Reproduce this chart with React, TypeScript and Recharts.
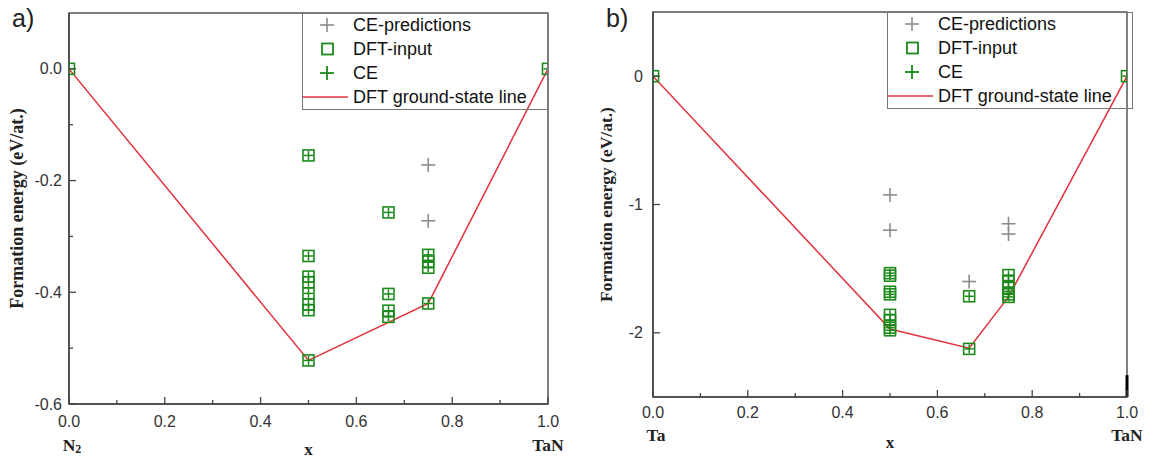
import { ComposedChart, Scatter, Line, XAxis, YAxis, ReferenceArea, ReferenceLine, Label } from "recharts";

type Pt = { x: number; e: number };

// ---- panel a) N2 – TaN ----
const aDftInput: Pt[] = [
  { x: 0, e: 0 },
  { x: 0.5, e: -0.155 }, { x: 0.5, e: -0.335 }, { x: 0.5, e: -0.372 }, { x: 0.5, e: -0.382 },
  { x: 0.5, e: -0.402 }, { x: 0.5, e: -0.422 }, { x: 0.5, e: -0.432 }, { x: 0.5, e: -0.522 },
  { x: 0.667, e: -0.257 }, { x: 0.667, e: -0.403 }, { x: 0.667, e: -0.433 }, { x: 0.667, e: -0.444 },
  { x: 0.75, e: -0.333 }, { x: 0.75, e: -0.345 }, { x: 0.75, e: -0.356 }, { x: 0.75, e: -0.42 },
  { x: 1, e: 0 },
];
const aCePredictions: Pt[] = [{ x: 0.75, e: -0.172 }, { x: 0.75, e: -0.272 }];
const aGroundState: Pt[] = [{ x: 0, e: 0 }, { x: 0.5, e: -0.522 }, { x: 0.75, e: -0.42 }, { x: 1, e: 0 }];
const aYTicks = [-0.6, -0.5, -0.4, -0.3, -0.2, -0.1, 0];
const aYMajor = [-0.6, -0.4, -0.2, 0];

// ---- panel b) Ta – TaN ----
const bDftInput: Pt[] = [
  { x: 0, e: 0 },
  { x: 0.5, e: -1.535 }, { x: 0.5, e: -1.555 }, { x: 0.5, e: -1.68 }, { x: 0.5, e: -1.7 },
  { x: 0.5, e: -1.86 }, { x: 0.5, e: -1.9 }, { x: 0.5, e: -1.96 }, { x: 0.5, e: -1.98 },
  { x: 0.667, e: -1.715 }, { x: 0.667, e: -2.125 },
  { x: 0.75, e: -1.55 }, { x: 0.75, e: -1.6 }, { x: 0.75, e: -1.65 }, { x: 0.75, e: -1.7 }, { x: 0.75, e: -1.72 },
  { x: 1, e: 0 },
];
const bCePredictions: Pt[] = [
  { x: 0.5, e: -0.925 }, { x: 0.5, e: -1.2 }, { x: 0.667, e: -1.6 }, { x: 0.75, e: -1.15 }, { x: 0.75, e: -1.23 },
];
const bGroundState: Pt[] = [{ x: 0, e: 0 }, { x: 0.5, e: -1.97 }, { x: 0.667, e: -2.12 }, { x: 0.75, e: -1.72 }, { x: 1, e: 0 }];
const bYTicks = [-2, -1, 0];
const bYMajor = [-2, -1, 0];

const xTicks = [0, 0.1, 0.2, 0.3, 0.4, 0.5, 0.6, 0.7, 0.8, 0.9, 1];
const legendItems = ["CE-predictions", "DFT-input", "CE", "DFT ground-state line"];

const GREEN = "#1b8a1b";
const GREY = "#8c8c8c";
const RED = "#e2303c";
const AXIS = "#444";
const SANS = "'Liberation Sans', Arial, sans-serif";
const SERIF = "'Liberation Serif', 'Times New Roman', serif";

const Square = (p: any) => (
  <rect x={p.cx - 5.5} y={p.cy - 5.5} width={11} height={11} fill="none" stroke={GREEN} strokeWidth={1.6} />
);
const plus = (cx: number, cy: number, r: number, c: string, w: number) => (
  <g stroke={c} strokeWidth={w}>
    <line x1={cx - r} x2={cx + r} y1={cy} y2={cy} />
    <line x1={cx} x2={cx} y1={cy - r} y2={cy + r} />
  </g>
);
const CePlus = (p: any) => plus(p.cx, p.cy, 4.5, GREEN, 1.5);
const PredPlus = (p: any) => plus(p.cx, p.cy, 7, GREY, 1.6);

function Legend({ left, top }: { left: number; top: number }) {
  return (
    <svg width={248} height={98} style={{ position: "absolute", left, top, overflow: "visible" }}>
      <rect x={0.5} y={0.5} width={245} height={96} fill="none" stroke="#777" />
      {legendItems.map((t, i) => {
        const cy = 12 + i * 24;
        return (
          <g key={t}>
            {i === 0 && plus(25, cy, 7, GREY, 1.6)}
            {i === 1 && <rect x={20} y={cy - 5.5} width={11} height={11} fill="none" stroke={GREEN} strokeWidth={1.8} />}
            {i === 2 && plus(25, cy, 7, GREEN, 1.8)}
            {i === 3 && <line x1={1} x2={46} y1={cy} y2={cy} stroke={RED} strokeWidth={1.5} />}
            <text x={51} y={cy} dominantBaseline="central" fontFamily={SANS} fontSize={18} fill="#111">
              {t}
            </text>
          </g>
        );
      })}
    </svg>
  );
}

type PanelProps = {
  left: number;
  width: number;
  margin: { top: number; right: number; bottom: number; left: number };
  yDomain: [number, number];
  yTicks: number[];
  yMajor: number[];
  yDigits: number;
  dft: Pt[];
  pred: Pt[];
  hull: Pt[];
  leftEnd: string;
  tag: string;
  tagX: number;
  tickDy: number;
  endDy: number;
  xDy: number;
  yLabGap: number;
  yLabelFont: number;
  legendLeft: number;
  artifact?: boolean;
};

function Panel(p: PanelProps) {
  const XTick = (t: any) => {
    const v = t.payload.value;
    const major = Math.round(v * 10) % 2 === 0;
    return (
      <g>
        <line x1={t.x} x2={t.x} y1={t.y} y2={t.y - (major ? 7 : 4)} stroke={AXIS} strokeWidth={1.3} />
        {major && (
          <text x={t.x} y={t.y + p.tickDy} textAnchor="middle" dominantBaseline="central" fontFamily={SANS} fontSize={16} fill="#333">
            {v.toFixed(1)}
          </text>
        )}
        {v === 0 && (
          <text x={t.x + 3} y={t.y + p.endDy} textAnchor="middle" dominantBaseline="central" fontFamily={SERIF} fontWeight="bold" fontSize={17.5} fill="#222">
            {p.leftEnd === "N2" ? (
              <>
                N<tspan fontSize={12} dy={4}>2</tspan>
              </>
            ) : (
              p.leftEnd
            )}
          </text>
        )}
        {v === 1 && (
          <text x={t.x} y={t.y + p.endDy} textAnchor="middle" dominantBaseline="central" fontFamily={SERIF} fontWeight="bold" fontSize={17.5} fill="#222">
            TaN
          </text>
        )}
      </g>
    );
  };
  const YTick = (t: any) => {
    const v = t.payload.value;
    const major = p.yMajor.some((m) => Math.abs(m - v) < 1e-9);
    return (
      <g>
        <line x1={t.x} x2={t.x + (major ? 7 : 4)} y1={t.y} y2={t.y} stroke={AXIS} strokeWidth={1.3} />
        {major && (
          <text x={t.x - (p.yDigits ? 7 : 10)} y={t.y} textAnchor="end" dominantBaseline="central" fontFamily={SANS} fontSize={16} fill="#333">
            {v.toFixed(p.yDigits)}
          </text>
        )}
      </g>
    );
  };

  return (
    <div style={{ position: "absolute", left: p.left, top: 0, width: p.width, height: 459 }}>
      <ComposedChart
        width={p.width}
        height={459}
        margin={{ ...p.margin, left: p.margin.left - 1, bottom: p.margin.bottom - 1 }}
      >
        <XAxis
          type="number"
          dataKey="x"
          domain={[0, 1]}
          ticks={xTicks}
          interval={0}
          height={1}
          tickSize={0}
          tickMargin={0}
          tickLine={false}
          axisLine={{ stroke: AXIS, strokeWidth: 1.5 }}
          tick={XTick}
          allowDataOverflow
        >
          <Label
            content={(lp: any) => (
              <text
                x={lp.viewBox.x + lp.viewBox.width / 2}
                y={lp.viewBox.y + p.xDy}
                textAnchor="middle"
                dominantBaseline="central"
                fontFamily={SERIF}
                fontWeight="bold"
                fontSize={17}
                fill="#222"
              >
                x
              </text>
            )}
          />
        </XAxis>
        <YAxis
          type="number"
          dataKey="e"
          domain={p.yDomain}
          ticks={p.yTicks}
          interval={0}
          width={1}
          tickSize={0}
          tickMargin={0}
          tickLine={false}
          axisLine={{ stroke: AXIS, strokeWidth: 1.5 }}
          tick={YTick}
          allowDataOverflow
        >
          <Label
            content={(lp: any) => {
              const cx = lp.viewBox.x + lp.viewBox.width - p.yLabGap;
              const cy = lp.viewBox.y + lp.viewBox.height / 2;
              return (
                <text
                  x={cx}
                  y={cy}
                  transform={`rotate(-90 ${cx} ${cy})`}
                  textAnchor="middle"
                  dominantBaseline="central"
                  fontFamily={SERIF}
                  fontWeight="bold"
                  fontSize={p.yLabelFont}
                  fill="#222"
                >
                  Formation energy (eV/at.)
                </text>
              );
            }}
          />
        </YAxis>
        <ReferenceArea x1={0} x2={1} y1={p.yDomain[0]} y2={p.yDomain[1]} fill="none" stroke="#555" strokeWidth={1.5} ifOverflow="visible" />
        {p.artifact && (
          <ReferenceLine
            segment={[{ x: 1, y: p.yDomain[0] }, { x: 1, y: p.yDomain[0] + 0.17 }]}
            stroke="#000"
            strokeWidth={3}
            ifOverflow="visible"
          />
        )}
        <Line data={p.hull} dataKey="e" type="linear" stroke={RED} strokeWidth={1.5} dot={false} isAnimationActive={false} />
        <Scatter data={p.pred} dataKey="e" shape={PredPlus} isAnimationActive={false} />
        <Scatter data={p.dft} dataKey="e" shape={Square} isAnimationActive={false} />
        <Scatter data={p.dft} dataKey="e" shape={CePlus} isAnimationActive={false} />
      </ComposedChart>
      <div
        style={{ position: "absolute", left: p.tagX, top: 0, fontFamily: SANS, fontSize: 25, lineHeight: "36px", color: "#222" }}
      >
        {p.tag}
      </div>
      <Legend left={p.legendLeft} top={p.margin.top} />
    </div>
  );
}

export default function App() {
  return (
    <div style={{ position: "absolute", left: 0, top: 0, width: 1155, height: 459, background: "#fff" }}>
      <Panel
        left={0}
        width={580}
        margin={{ top: 13, right: 32, bottom: 55, left: 69 }}
        yDomain={[-0.6, 0.1]}
        yTicks={aYTicks}
        yMajor={aYMajor}
        yDigits={1}
        dft={aDftInput}
        pred={aCePredictions}
        hull={aGroundState}
        leftEnd="N2"
        tag="a)"
        tagX={12}
        tickDy={17}
        endDy={41}
        xDy={45}
        yLabGap={52}
        yLabelFont={18}
        legendLeft={302}
      />
      <Panel
        left={580}
        width={575}
        margin={{ top: 12, right: 28, bottom: 62, left: 73 }}
        yDomain={[-2.5, 0.5]}
        yTicks={bYTicks}
        yMajor={bYMajor}
        yDigits={0}
        dft={bDftInput}
        pred={bCePredictions}
        hull={bGroundState}
        leftEnd="Ta"
        tag="b)"
        tagX={26}
        tickDy={15}
        endDy={38}
        xDy={45}
        yLabGap={47}
        yLabelFont={17.5}
        legendLeft={307}
        artifact
      />
    </div>
  );
}
